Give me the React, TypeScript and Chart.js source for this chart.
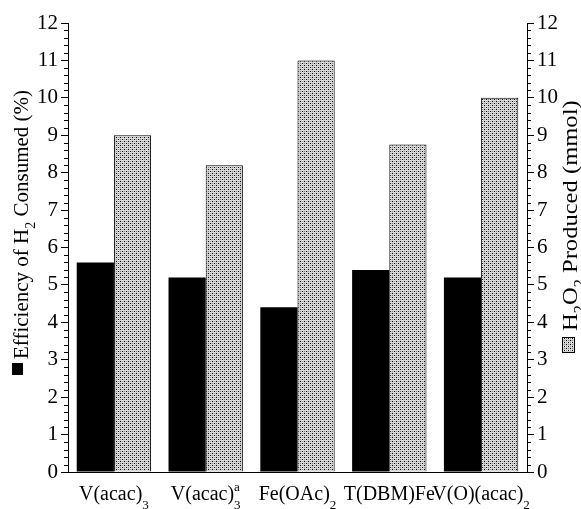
import React, { useEffect, useRef } from "react";
import { Chart, registerables } from "chart.js";

Chart.register(...registerables);

// ---- data ----
const categories = ["V(acac)_3", "V(acac)_3^a", "Fe(OAc)_2", "T(DBM)Fe", "V(O)(acac)_2"];
const efficiencyH2 = [5.6, 5.2, 4.4, 5.4, 5.2];
const h2o2Produced = [9.0, 8.2, 11.0, 8.75, 10.0];
const leftTitle = "Efficiency of H_2 Consumed (%)";
const rightTitle = "H_2O_2 Produced (mmol)";
const axisMin = 0;
const axisMax = 12;
const axisStep = 1;
const minorStep = 0.2;

const FAMILY = "'Liberation Serif', 'Times New Roman', serif";
const BIG = 21;
const XLAB = 20;

type Seg = { text: string; kind: "n" | "sub" | "sup" };

function parseRich(s: string): Seg[] {
  const out: Seg[] = [];
  let buf = "";
  for (let i = 0; i < s.length; i++) {
    const c = s[i];
    if ((c === "_" || c === "^") && i + 1 < s.length) {
      if (buf) { out.push({ text: buf, kind: "n" }); buf = ""; }
      out.push({ text: s[i + 1], kind: c === "_" ? "sub" : "sup" });
      i++;
    } else {
      buf += c;
    }
  }
  if (buf) out.push({ text: buf, kind: "n" });
  return out;
}

function plain(s: string) {
  return s.replace(/[_^]/g, "");
}

function drawRich(ctx: CanvasRenderingContext2D, s: string, x: number, y: number, size: number, doDraw: boolean, subDrop = 0.33): number {
  const segs = parseRich(s);
  let cx = x;
  let lastSubStart = 0;
  let lastSubW = 0;
  let prevKind = "n";
  const small = Math.round(size * 0.67);
  for (const seg of segs) {
    if (seg.kind === "n") {
      ctx.font = `${size}px ${FAMILY}`;
      const w = ctx.measureText(seg.text).width;
      if (doDraw) ctx.fillText(seg.text, cx, y);
      cx += w;
    } else {
      ctx.font = `${small}px ${FAMILY}`;
      const w = ctx.measureText(seg.text).width;
      if (seg.kind === "sup" && prevKind === "sub") {
        if (doDraw) ctx.fillText(seg.text, lastSubStart, y - size * 0.45);
        cx = lastSubStart + Math.max(lastSubW, w);
      } else if (seg.kind === "sub") {
        lastSubStart = cx;
        lastSubW = w;
        if (doDraw) ctx.fillText(seg.text, cx, y + size * subDrop);
        cx += w;
      } else {
        if (doDraw) ctx.fillText(seg.text, cx, y - size * 0.45);
        cx += w;
      }
    }
    prevKind = seg.kind;
  }
  return cx - x;
}

function makePattern(): CanvasPattern | string {
  const c = document.createElement("canvas");
  c.width = 4;
  c.height = 4;
  const g = c.getContext("2d");
  if (!g) return "#bbbbbb";
  g.fillStyle = "#d2d2d2";
  g.fillRect(0, 0, 4, 4);
  g.fillStyle = "#f4f4f4";
  g.fillRect(2, 0, 1, 4);
  g.fillStyle = "#000000";
  g.fillRect(0, 1, 1, 1);
  g.fillRect(2, 3, 1, 1);
  g.fillStyle = "#8a8a8a";
  g.fillRect(0, 3, 1, 1);
  g.fillRect(2, 1, 1, 1);
  const p = g.createPattern(c, "repeat");
  return p || "#bbbbbb";
}

export default function App() {
  const ref = useRef<HTMLCanvasElement | null>(null);

  useEffect(() => {
    document.body.style.margin = "0";
    const canvas = ref.current;
    if (!canvas) return;
    const pattern = makePattern();

    const decor = {
      id: "decor",
      afterDraw(chart: any) {
        const ctx: CanvasRenderingContext2D = chart.ctx;
        const yL = chart.scales.y;
        const yR = chart.scales.y1;
        const xS = chart.scales.x;
        ctx.save();
        // minor ticks
        ctx.strokeStyle = "#000";
        ctx.lineWidth = 1;
        ctx.beginPath();
        for (let v = axisMin; v <= axisMax + 1e-9; v += minorStep) {
          const r = Math.round(v / axisStep);
          if (Math.abs(v - r * axisStep) < 1e-6) continue;
          const py = Math.round(yL.getPixelForValue(v)) + 0.5;
          ctx.moveTo(yL.right - 4, py);
          ctx.lineTo(yL.right, py);
          const py2 = Math.round(yR.getPixelForValue(v)) + 0.5;
          ctx.moveTo(yR.left, py2);
          ctx.lineTo(yR.left + 4, py2);
        }
        ctx.stroke();

        // x labels
        ctx.fillStyle = "#000";
        ctx.textBaseline = "alphabetic";
        ctx.textAlign = "left";
        categories.forEach((c, i) => {
          const cx = xS.getPixelForValue(i);
          const w = drawRich(ctx, c, 0, 0, XLAB, false, 0.45);
          drawRich(ctx, c, cx - w / 2, 500, XLAB, true, 0.45);
        });

        // left title
        ctx.save();
        ctx.translate(28, 375);
        ctx.rotate(-Math.PI / 2);
        ctx.fillStyle = "#000";
        ctx.fillRect(0, -16, 12, 11);
        drawRich(ctx, leftTitle, 16, 0, BIG, true);
        ctx.restore();

        // right title
        ctx.save();
        ctx.translate(577, 353);
        ctx.rotate(-Math.PI / 2);
        ctx.fillStyle = pattern as any;
        ctx.fillRect(0, -15, 16, 13);
        ctx.strokeStyle = "#000";
        ctx.lineWidth = 1;
        ctx.strokeRect(0.5, -14.5, 15, 12);
        ctx.fillStyle = "#000";
        ctx.translate(22, 0);
        ctx.scale(1.17, 1);
        drawRich(ctx, rightTitle, 0, 0, BIG, true);
        ctx.restore();

        ctx.restore();
      },
    };

    const yCommon = (position: "left" | "right") => ({
      type: "linear" as const,
      position,
      min: axisMin,
      max: axisMax,
      ticks: {
        stepSize: axisStep,
        color: "#000",
        padding: 3,
        font: { family: FAMILY, size: BIG },
      },
      grid: {
        display: true,
        drawOnChartArea: false,
        drawTicks: true,
        tickLength: 7,
        tickColor: "#000",
        tickWidth: 1,
      },
      border: { display: true, color: "#000", width: 1 },
      afterFit: (s: any) => {
        s.width = position === "left" ? 60 : 54;
      },
    });

    const chart = new Chart(canvas, {
      type: "bar",
      data: {
        labels: categories.map(plain),
        datasets: [
          {
            label: plain(leftTitle),
            data: efficiencyH2,
            backgroundColor: "#000",
            borderWidth: 0,
            yAxisID: "y",
            categoryPercentage: 0.81,
            barPercentage: 1.0,
          },
          {
            label: plain(rightTitle),
            data: h2o2Produced,
            backgroundColor: pattern as any,
            borderColor: "#000",
            borderWidth: 1,
            yAxisID: "y1",
            categoryPercentage: 0.81,
            barPercentage: 1.0,
          },
        ],
      },
      options: {
        responsive: false,
        animation: false,
        layout: { padding: { left: 8, right: 0, top: 23, bottom: 0 } },
        plugins: {
          legend: { display: false },
          tooltip: { enabled: false },
          title: { display: false },
        },
        scales: {
          x: {
            ticks: { display: false },
            grid: { display: false, drawTicks: false },
            border: { display: true, color: "#000", width: 1 },
            afterFit: (s: any) => {
              s.height = 37;
            },
          },
          y: yCommon("left"),
          y1: yCommon("right"),
        } as any,
      },
      plugins: [decor],
    });

    return () => chart.destroy();
  }, []);

  return (
    <div style={{ position: "fixed", left: 0, top: 0, width: 581, height: 509, background: "#fff" }}>
      <canvas ref={ref} width={581} height={509} />
    </div>
  );
}
